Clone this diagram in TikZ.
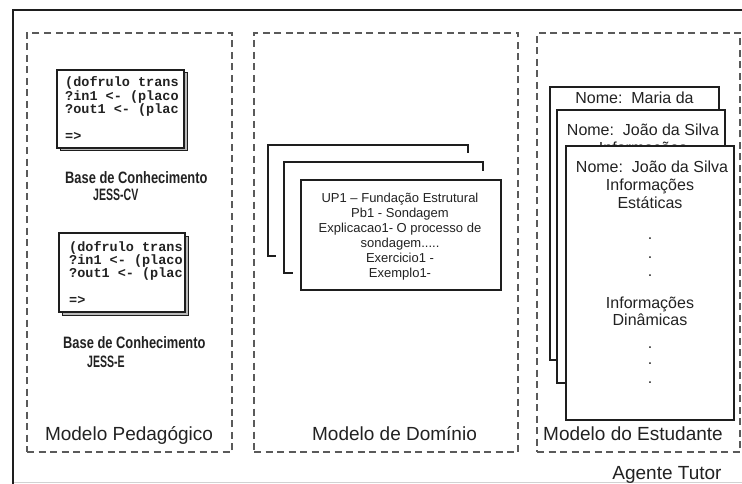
\documentclass[tikz,border=0pt]{standalone}
\usepackage{fontspec}
\setmainfont{Liberation Sans}
\newfontfamily\codefont{Liberation Mono}
\newfontfamily\labfont[FakeStretch=0.78]{Liberation Sans}
\definecolor{txt}{HTML}{222222}
\definecolor{dashgray}{HTML}{5A5A5A}
\definecolor{framecol}{HTML}{1E1E1E}
\begin{document}
\begin{tikzpicture}[x=1pt,y=-1pt,
  dbox/.style={draw=dashgray, line width=1.3pt, dash pattern=on 7pt off 4.5pt, inner sep=0pt},
  paper/.style={draw=framecol, line width=1.3pt, fill=white, inner sep=0pt},
  halo/.style={preaction={draw=white, line width=17pt}},
  shadowbox/.style={draw=framecol, line width=1pt, fill=gray!55, inner sep=0pt},
  codebox/.style={draw=framecol, line width=1.2pt, fill=white, inner sep=0pt},
  codetxt/.style={anchor=base west, inner sep=0pt, text=txt, font=\codefont\bfseries\fontsize{13.5}{13.5}\selectfont},
  labtxt/.style={anchor=base west, inner sep=0pt, text=txt, font=\labfont\bfseries\fontsize{16.5}{16.5}\selectfont},
  modtxt/.style={anchor=base, inner sep=0pt, text=txt, font=\fontsize{19}{19}\selectfont},
  domtxt/.style={anchor=base, inner sep=0pt, text=txt, font=\fontsize{13}{13}\selectfont},
  esttxt/.style={anchor=base, inner sep=0pt, text=txt, font=\fontsize{16}{16}\selectfont}
]
\useasboundingbox (0,0) rectangle (742,484);
\fill[white] (0,0) rectangle (742,484);

% outer frame
\coordinate (fbl) at (13,490);
\coordinate (ftl) at (13,10);
\coordinate (ftr) at (750,10);
\coordinate (bl) at (13,482);
\coordinate (br) at (742,482);
\draw[gray!35, line width=0.8pt] (bl) -- (br);
\draw[framecol, line width=2pt] (fbl) -- (ftl) -- (ftr);

% dashed model boxes
\node[dbox, minimum width=205pt, minimum height=419pt] (pedag) at (129.5,242.5) {};
\node[dbox, minimum width=264pt, minimum height=419pt] (dominio) at (386,242.5) {};
\node[dbox, minimum width=203pt, minimum height=419pt] (estud) at (638.5,242.5) {};

\node[modtxt] (lpedag) at (129,440) {Modelo Pedagógico};
\node[modtxt] (ldom) at (394.5,440) {Modelo de Domínio};
\node[modtxt] (lest) at (633,440) {Modelo do Estudante};
\node[modtxt] (lagente) at (667,479) {Agente Tutor};

% ---- Modelo Pedagogico: knowledge bases
\node[shadowbox, minimum width=127pt, minimum height=78pt] (kb1s) at (123.5,112) {};
\node[codebox, minimum width=127pt, minimum height=78pt] (kb1) at (120.5,109) {};
\node[codetxt] (c11) at (65,87) {(dofrulo trans};
\node[codetxt] (c12) at (65,100.3) {?in1 <- (placo};
\node[codetxt] (c13) at (65,113.6) {?out1 <- (plac};
\node[codetxt] (c14) at (65,140.2) {=>};
\node[labtxt] (b1a) at (65,183) {Base de Conhecimento};
\node[labtxt] (b1b) at (93,200.5) {\scalebox{0.82}[1]{JESS-CV}};

\node[shadowbox, minimum width=126pt, minimum height=79pt] (kb2s) at (125,275.5) {};
\node[codebox, minimum width=126pt, minimum height=79pt] (kb2) at (122,272.5) {};
\node[codetxt] (c21) at (69,251) {(dofrulo trans};
\node[codetxt] (c22) at (69,264.3) {?in1 <- (placo};
\node[codetxt] (c23) at (69,277.6) {?out1 <- (plac};
\node[codetxt] (c24) at (69,304.2) {=>};
\node[labtxt] (b2a) at (63,348) {Base de Conhecimento};
\node[labtxt] (b2b) at (87,367) {\scalebox{0.82}[1]{JESS-E}};

% ---- Modelo de Dominio: stacked pages
\node[paper, halo, minimum width=200pt, minimum height=111pt] (d1) at (368,200.5) {};
\node[paper, halo, minimum width=199pt, minimum height=111pt] (d2) at (383.5,217.5) {};
\node[paper, halo, minimum width=200pt, minimum height=110pt] (d3) at (401,235) {};
\node[domtxt] (t1) at (400,202) {UP1 – Fundação Estrutural};
\node[domtxt] (t2) at (400,217) {Pb1 - Sondagem};
\node[domtxt] (t3) at (400,232.5) {Explicacao1- O processo de};
\node[domtxt] (t4) at (400,247.5) {sondagem.....};
\node[domtxt] (t5) at (400,262.5) {Exercicio1 -};
\node[domtxt] (t6) at (400,277.5) {Exemplo1-};

% ---- Modelo do Estudante: stacked records
\node[paper, minimum width=169pt, minimum height=273pt] (e1) at (634.5,223.5) {};
\node[esttxt] (e1a) at (634.5,104) {Nome:\ \ Maria da};
\node[paper, minimum width=168pt, minimum height=273pt] (e2) at (641,246.5) {};
\node[esttxt] (e2a) at (643,136) {Nome:\ \ João da Silva};
\node[esttxt] (e2b) at (643,154) {Informações};
\node[paper, minimum width=168pt, minimum height=274pt] (e3) at (650,283) {};
\node[esttxt] (e3a) at (652,173) {Nome:\ \ João da Silva};
\node[esttxt] (e3b) at (650,190.5) {Informações};
\node[esttxt] (e3c) at (650,208) {Estáticas};
\node[esttxt] (e3d) at (650,239) {.};
\node[esttxt] (e3e) at (650,258) {.};
\node[esttxt] (e3f) at (650,276) {.};
\node[esttxt] (e3g) at (650,308) {Informações};
\node[esttxt] (e3h) at (650,325) {Dinâmicas};
\node[esttxt] (e3i) at (650,348) {.};
\node[esttxt] (e3j) at (650,364) {.};
\node[esttxt] (e3k) at (650,383) {.};
\end{tikzpicture}
\end{document}
